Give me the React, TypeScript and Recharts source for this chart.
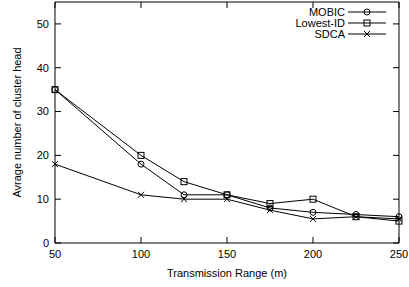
import React from "react"
import { LineChart, Line, XAxis, YAxis, Label, ReferenceArea } from "recharts"

const ranges = [50, 100, 125, 150, 175, 200, 225, 250]
const mobic = [35, 18, 11, 11, 8, 7, 6.5, 6]
const lowestId = [35, 20, 14, 11, 9, 10, 6, 5]
const sdca = [18, 11, 10, 10, 7.5, 5.5, 6, 5.5]

const xTicks = [50, 100, 150, 200, 250]
const yTicks = [0, 10, 20, 30, 40, 50]

const seriesNames = ["MOBIC", "Lowest-ID", "SDCA"]
const seriesKeys = ["mobic", "lowestId", "sdca"]

const data = ranges.map((r, i) => ({
  range: r,
  mobic: mobic[i],
  lowestId: lowestId[i],
  sdca: sdca[i],
}))

const W = 409
const H = 287
const MARGIN = { top: 2, right: 10, bottom: 0, left: 0 }
const X_AXIS_H = 44
const Y_AXIS_W = 55
const TICK_LEN = 6
const PLOT_TOP = MARGIN.top
const PLOT_BOTTOM = H - MARGIN.bottom - X_AXIS_H
const PLOT_LEFT = MARGIN.left + Y_AXIS_W
const PLOT_RIGHT = W - MARGIN.right

const FONT = "'Liberation Sans', Arial, sans-serif"
const INK = "#000"

const Marker = ({ kind, cx, cy }: { kind: string; cx: number; cy: number }) => {
  if (kind === "mobic") {
    return <circle cx={cx} cy={cy} r={3} fill="none" stroke={INK} strokeWidth={1} />
  }
  if (kind === "lowestId") {
    return <rect x={cx - 3} y={cy - 3} width={6} height={6} fill="none" stroke={INK} strokeWidth={1} />
  }
  return (
    <path d={`M${cx - 3},${cy - 3}L${cx + 3},${cy + 3}M${cx - 3},${cy + 3}L${cx + 3},${cy - 3}`} stroke={INK} strokeWidth={1} />
  )
}

const makeDot = (kind: string) => (props: any) => {
  const { cx, cy, index } = props
  return <Marker key={`${kind}-${index}`} kind={kind} cx={cx} cy={cy} />
}

// gnuplot style: ticks point inward and are mirrored on the opposite side
const XTick = (props: any) => {
  const { x, y, payload } = props
  return (
    <g>
      <path d={`M${x},${PLOT_BOTTOM}V${PLOT_BOTTOM - TICK_LEN}M${x},${PLOT_TOP}V${PLOT_TOP + TICK_LEN}`} stroke={INK} strokeWidth={1} fill="none" />
      <text x={x} y={y} dy="0.71em" textAnchor="middle" fontSize={11} fontFamily={FONT} fill={INK}>
        {payload.value}
      </text>
    </g>
  )
}

const YTick = (props: any) => {
  const { x, y, payload } = props
  return (
    <g>
      <path d={`M${PLOT_LEFT},${y}H${PLOT_LEFT + TICK_LEN}M${PLOT_RIGHT},${y}H${PLOT_RIGHT - TICK_LEN}`} stroke={INK} strokeWidth={1} fill="none" />
      <text x={x} y={y} dy="0.35em" textAnchor="end" fontSize={11} fontFamily={FONT} fill={INK}>
        {payload.value}
      </text>
    </g>
  )
}

export default function App() {
  return (
    <div style={{ position: "absolute", left: 0, top: 0, width: W, height: H, background: "#fff" }}>
      <LineChart width={W} height={H} data={data} margin={MARGIN}>
        <XAxis
          dataKey="range"
          type="number"
          domain={[50, 250]}
          ticks={xTicks}
          height={X_AXIS_H}
          tickSize={0}
          tickMargin={7}
          tick={<XTick />}
          axisLine={false}
          tickLine={false}
          interval={0}
        >
          <Label value="Transmission Range (m)" position="center" dy={8} style={{ fontSize: 11, fontFamily: FONT, fill: INK }} />
        </XAxis>
        <YAxis
          type="number"
          domain={[0, 55]}
          ticks={yTicks}
          width={Y_AXIS_W}
          tickSize={0}
          tickMargin={6}
          tick={<YTick />}
          axisLine={false}
          tickLine={false}
          interval={0}
        >
          <Label
            value="Avrage number of cluster head"
            angle={-90}
            position="center"
            dx={-10}
            style={{ fontSize: 11, fontFamily: FONT, fill: INK, textAnchor: "middle" }}
          />
        </YAxis>
        <ReferenceArea x1={50} x2={250} y1={0} y2={55} fill="none" stroke={INK} strokeWidth={1} fillOpacity={0} />
        {seriesKeys.map((k) => (
          <Line
            key={k}
            dataKey={k}
            stroke={INK}
            strokeWidth={1}
            dot={makeDot(k)}
            activeDot={false}
            isAnimationActive={false}
          />
        ))}
      </LineChart>
      <svg width={W} height={H} style={{ position: "absolute", left: 0, top: 0, pointerEvents: "none" }}>
        {seriesNames.map((name, i) => {
          const y = 12 + i * 11
          return (
            <g key={name}>
              <text x={345} y={y} dy="0.35em" textAnchor="end" fontSize={11} fontFamily={FONT} fill={INK}>
                {name}
              </text>
              <line x1={348} x2={386} y1={y} y2={y} stroke={INK} strokeWidth={1} />
              <Marker kind={seriesKeys[i]} cx={367} cy={y} />
            </g>
          )
        })}
      </svg>
    </div>
  )
}
